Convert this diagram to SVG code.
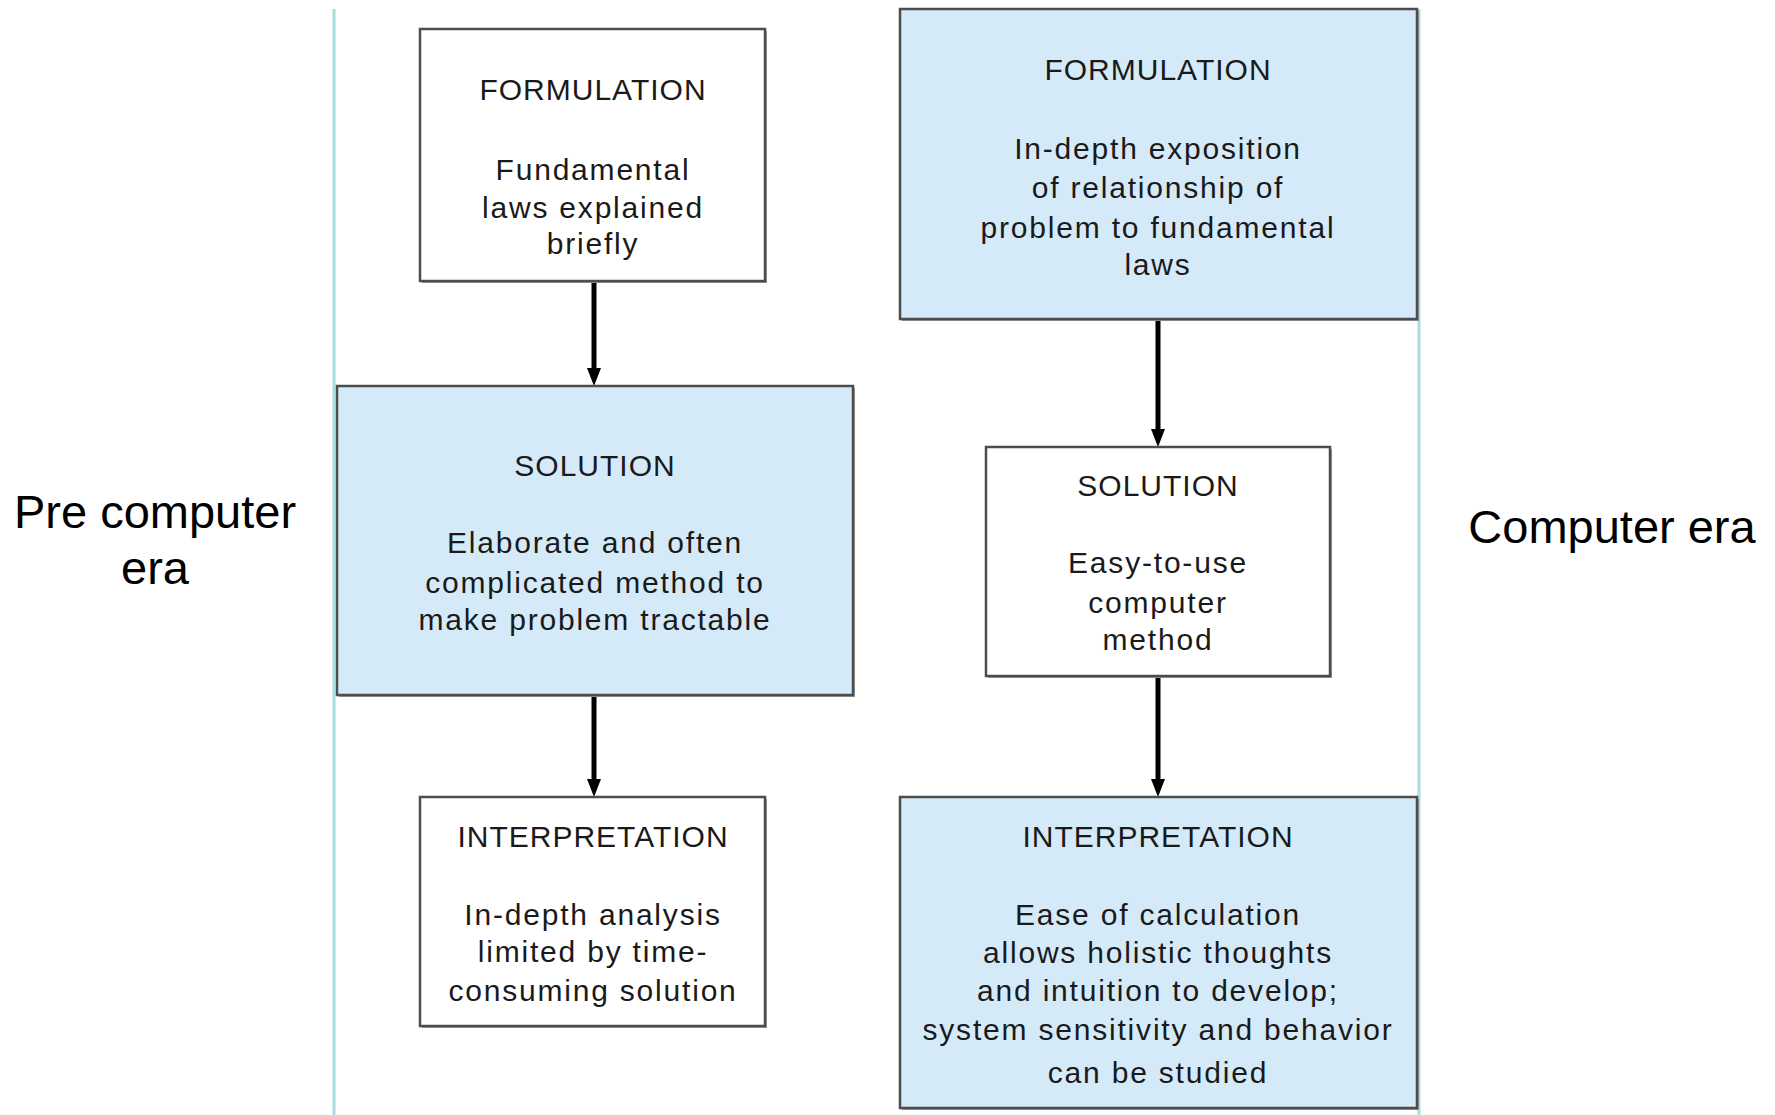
<svg xmlns="http://www.w3.org/2000/svg" width="1775" height="1115" viewBox="0 0 1775 1115">
  <style>
    .box { stroke: #4d4d4d; stroke-width: 2.5; }
    .white { fill: #ffffff; }
    .blue { fill: #d5eaf9; }
    .shadow { fill: none; stroke: #9a9a9a; stroke-width: 2; }
    .title { font-family: "Liberation Sans", Arial, sans-serif; font-size: 30px; letter-spacing: 1px; fill: #1a1a1a; text-anchor: middle; }
    .body { font-family: "Liberation Sans", Arial, sans-serif; font-size: 30px; letter-spacing: 1.8px; fill: #1a1a1a; text-anchor: middle; }
    .era { font-family: "Liberation Sans", Arial, sans-serif; font-size: 47px; fill: #000000; text-anchor: middle; }
    .divider { stroke: #a9dde2; stroke-width: 3; }
    .conn { stroke: #000000; stroke-width: 5; fill: none; marker-end: url(#arrow); }
  </style>
  <defs>
    <marker id="arrow" markerUnits="userSpaceOnUse" markerWidth="24" markerHeight="20" viewBox="0 -10 24 20" refX="4" refY="0" orient="auto">
      <path d="M0,-7 L18,0 L0,7 z" fill="#000000"/>
    </marker>
  </defs>
  <rect width="1775" height="1115" fill="#ffffff"/>

  <g id="dividers">
    <line class="divider" x1="334" y1="9" x2="334" y2="1115"/>
    <line class="divider" x1="1419" y1="9" x2="1419" y2="1115"/>
  </g>

  <g id="label-pre">
    <text class="era" x="155" y="528">Pre computer</text>
    <text class="era" x="155" y="584">era</text>
  </g>
  <g id="label-computer">
    <text class="era" x="1612" y="543">Computer era</text>
  </g>

  <g id="connectors">
    <line class="conn" x1="594" y1="281" x2="594" y2="372"/>
    <line class="conn" x1="594" y1="695" x2="594" y2="783"/>
    <line class="conn" x1="1158" y1="319" x2="1158" y2="433"/>
    <line class="conn" x1="1158" y1="676" x2="1158" y2="783"/>
  </g>

  <g id="pre-formulation">
    <path class="shadow" d="M422,282 H766 V31"/>
    <rect class="box white" x="420" y="29" width="345" height="252"/>
    <text class="title" x="593" y="100">FORMULATION</text>
    <text class="body" x="593" y="180">Fundamental</text>
    <text class="body" x="593" y="218">laws explained</text>
    <text class="body" x="593" y="254">briefly</text>
  </g>

  <g id="pre-solution">
    <path class="shadow" d="M339,696 H854 V388"/>
    <rect class="box blue" x="337" y="386" width="516" height="309"/>
    <text class="title" x="595" y="476">SOLUTION</text>
    <text class="body" x="595" y="553">Elaborate and often</text>
    <text class="body" x="595" y="593">complicated method to</text>
    <text class="body" x="595" y="630">make problem tractable</text>
  </g>

  <g id="pre-interpretation">
    <path class="shadow" d="M422,1027 H766 V799"/>
    <rect class="box white" x="420" y="797" width="345" height="229"/>
    <text class="title" x="593" y="847">INTERPRETATION</text>
    <text class="body" x="593" y="925">In-depth analysis</text>
    <text class="body" x="593" y="962">limited by time-</text>
    <text class="body" x="593" y="1001">consuming solution</text>
  </g>

  <g id="comp-formulation">
    <path class="shadow" d="M902,320 H1418 V11"/>
    <rect class="box blue" x="900" y="9" width="517" height="310"/>
    <text class="title" x="1158" y="80">FORMULATION</text>
    <text class="body" x="1158" y="159">In-depth exposition</text>
    <text class="body" x="1158" y="198">of relationship of</text>
    <text class="body" x="1158" y="238">problem to fundamental</text>
    <text class="body" x="1158" y="275">laws</text>
  </g>

  <g id="comp-solution">
    <path class="shadow" d="M988,677 H1331 V449"/>
    <rect class="box white" x="986" y="447" width="344" height="229"/>
    <text class="title" x="1158" y="496">SOLUTION</text>
    <text class="body" x="1158" y="573">Easy-to-use</text>
    <text class="body" x="1158" y="613">computer</text>
    <text class="body" x="1158" y="650">method</text>
  </g>

  <g id="comp-interpretation">
    <path class="shadow" d="M902,1109 H1418 V799"/>
    <rect class="box blue" x="900" y="797" width="517" height="311"/>
    <text class="title" x="1158" y="847">INTERPRETATION</text>
    <text class="body" x="1158" y="925">Ease of calculation</text>
    <text class="body" x="1158" y="963">allows holistic thoughts</text>
    <text class="body" x="1158" y="1001">and intuition to develop;</text>
    <text class="body" x="1158" y="1040">system sensitivity and behavior</text>
    <text class="body" x="1158" y="1083">can be studied</text>
  </g>
</svg>
